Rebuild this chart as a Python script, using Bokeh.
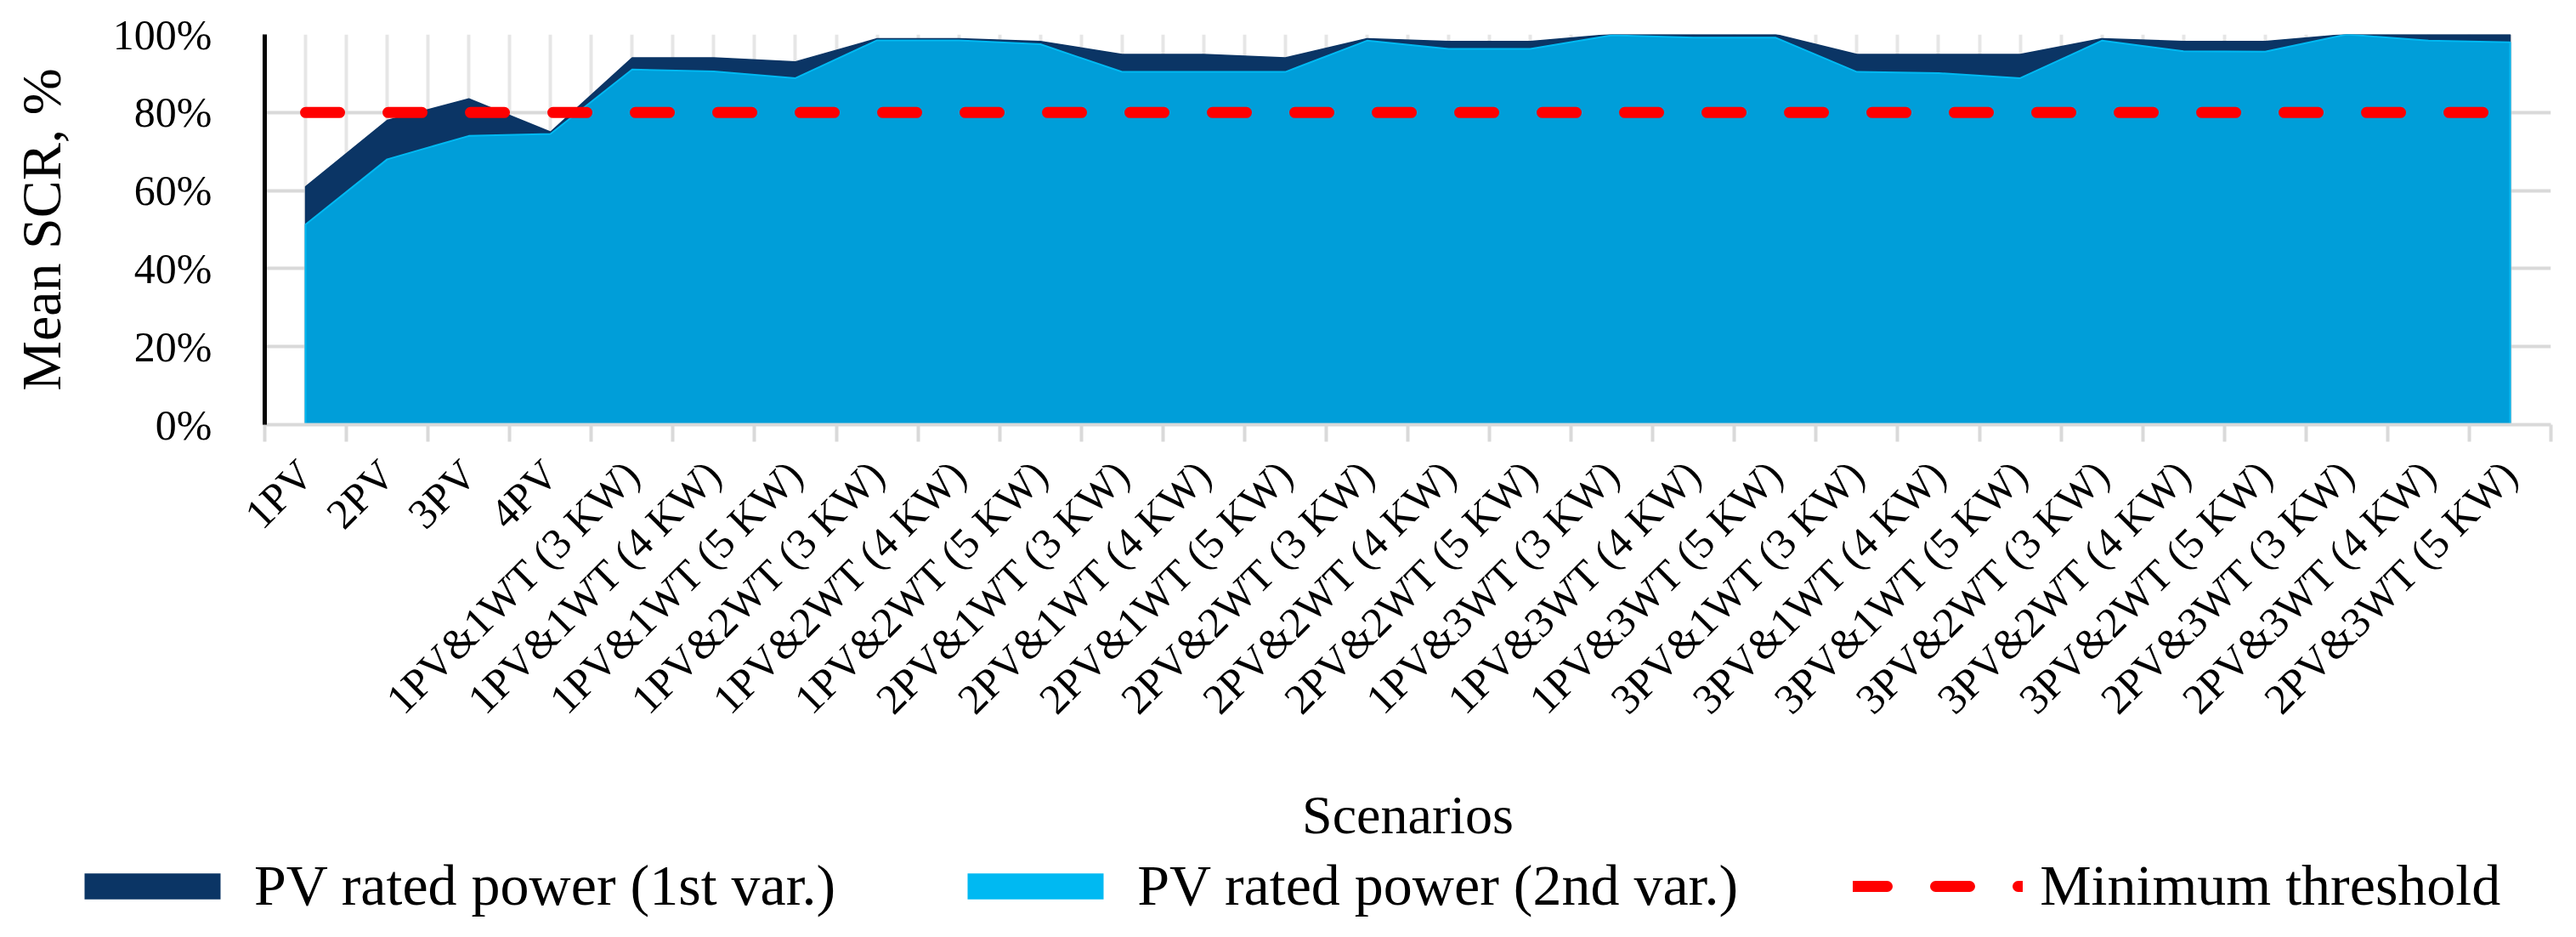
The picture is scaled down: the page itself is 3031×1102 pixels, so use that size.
from bokeh.plotting import figure
from bokeh.layouts import column
from bokeh.models import (Range1d, FixedTicker, NumeralTickFormatter, CustomJSTickFormatter,
                          Legend, LegendItem)
from bokeh.embed import file_html
from bokeh.resources import INLINE

# scenario names on the x axis
scenarios = ["1PV", "2PV", "3PV", "4PV",
             "1PV&1WT (3 KW)", "1PV&1WT (4 KW)", "1PV&1WT (5 KW)",
             "1PV&2WT (3 KW)", "1PV&2WT (4 KW)", "1PV&2WT (5 KW)",
             "2PV&1WT (3 KW)", "2PV&1WT (4 KW)", "2PV&1WT (5 KW)",
             "2PV&2WT (3 KW)", "2PV&2WT (4 KW)", "2PV&2WT (5 KW)",
             "1PV&3WT (3 KW)", "1PV&3WT (4 KW)", "1PV&3WT (5 KW)",
             "3PV&1WT (3 KW)", "3PV&1WT (4 KW)", "3PV&1WT (5 KW)",
             "3PV&2WT (3 KW)", "3PV&2WT (4 KW)", "3PV&2WT (5 KW)",
             "2PV&3WT (3 KW)", "2PV&3WT (4 KW)", "2PV&3WT (5 KW)"]

# mean SCR, 1st and 2nd variant of PV rated power
scr_var1 = [0.61, 0.78, 0.835, 0.75, 0.94, 0.94, 0.93, 0.989, 0.989, 0.982,
            0.949, 0.949, 0.94, 0.989, 0.982, 0.982, 1.0, 1.0, 1.0,
            0.949, 0.949, 0.949, 0.989, 0.982, 0.982, 1.0, 1.0, 1.0]
scr_var2 = [0.513, 0.68, 0.74, 0.745, 0.91, 0.905, 0.888, 0.985, 0.985, 0.975,
            0.904, 0.904, 0.904, 0.984, 0.963, 0.963, 0.998, 0.992, 0.992,
            0.904, 0.901, 0.888, 0.984, 0.957, 0.956, 1.0, 0.984, 0.98]
threshold = 0.8

y_ticks = [0, 0.2, 0.4, 0.6, 0.8, 1.0]

NAVY = "#0B3565"
BLUE = "#009ED9"
CYAN = "#00B9F2"
GRID = "#D9D9D9"
FONT = "Liberation Serif"

n = len(scenarios)
xc = [i + 0.5 for i in range(n)]
edges = [i for i in range(n + 1)]

p = figure(frame_width=2690, frame_height=459,
           x_range=Range1d(0, n), y_range=Range1d(0, 1),
           min_border_left=311, min_border_right=14, min_border_top=40, min_border_bottom=501,
           output_backend="svg", toolbar_location=None)
p.outline_line_color = None

# areas (as closed patches so the outline shows like the original)
px = [xc[0]] + xc + [xc[-1]]
p.patch(x=px, y=[0] + scr_var1 + [0], fill_color=NAVY, line_color=NAVY, line_width=1.5)
p.patch(x=px, y=[0] + scr_var2 + [0], fill_color=BLUE, line_color=CYAN, line_width=2)

# threshold line
p.line(x=[xc[0], xc[-1]], y=[threshold, threshold], line_color="red", line_width=13,
       line_dash="40 57", line_cap="round")

# axes
xt = FixedTicker(ticks=xc, minor_ticks=edges)
p.xaxis.ticker = xt
p.xaxis.formatter = CustomJSTickFormatter(args=dict(labels=scenarios),
                                          code="return labels[Math.floor(tick)]")
p.xaxis.major_label_orientation = 0.785398
p.xaxis.major_tick_out = 0
p.xaxis.major_tick_in = 0
p.xaxis.minor_tick_out = 20
p.xaxis.minor_tick_in = 0
p.xaxis.minor_tick_line_color = GRID
p.xaxis.minor_tick_line_width = 4
p.xaxis.axis_line_color = GRID
p.xaxis.axis_line_width = 4
p.xaxis.major_label_standoff = 30
p.xaxis.major_label_text_font = FONT
p.xaxis.major_label_text_font_size = "50px"
p.xaxis.major_label_text_color = "black"
p.xaxis.axis_label = "Scenarios"
p.xaxis.axis_label_text_font = FONT
p.xaxis.axis_label_text_font_size = "64px"
p.xaxis.axis_label_text_font_style = "normal"
p.xaxis.axis_label_text_color = "black"
p.xaxis.axis_label_standoff = 50

p.yaxis.ticker = FixedTicker(ticks=y_ticks)
p.yaxis.formatter = NumeralTickFormatter(format="0%")
p.yaxis.major_tick_out = 0
p.yaxis.major_tick_in = 0
p.yaxis.minor_tick_out = 0
p.yaxis.minor_tick_in = 0
p.yaxis.axis_line_color = "black"
p.yaxis.axis_line_width = 5
p.yaxis.major_label_standoff = 62
p.yaxis.major_label_text_font = FONT
p.yaxis.major_label_text_font_size = "50px"
p.yaxis.major_label_text_color = "black"
p.yaxis.axis_label = "Mean SCR, %"
p.yaxis.axis_label_text_font = FONT
p.yaxis.axis_label_text_font_size = "66px"
p.yaxis.axis_label_text_font_style = "normal"
p.yaxis.axis_label_text_color = "black"
p.yaxis.axis_label_standoff = 45

# grids
p.xgrid.ticker = xt
p.xgrid.grid_line_color = "#E6E6E6"
p.xgrid.grid_line_width = 4
p.xgrid.minor_grid_line_color = "#E6E6E6"
p.xgrid.minor_grid_line_width = 4
p.ygrid.ticker = FixedTicker(ticks=y_ticks)
p.ygrid.grid_line_color = GRID
p.ygrid.grid_line_width = 4

# legend strip below the chart, its own small figure; the proxy glyphs lie
# outside its x range so only their legend swatches show
leg = figure(width=3015, height=86, x_range=Range1d(-2, -1), y_range=Range1d(0, 1),
             min_border=0, x_axis_location=None, y_axis_location=None,
             output_backend="svg", toolbar_location=None)
leg.outline_line_color = None
leg.grid.visible = False
if "frame_align" in leg.properties():
    leg.frame_align = False

r1 = leg.varea(x=xc, y1=0, y2=scr_var1, fill_color=NAVY)
r2 = leg.varea(x=xc, y1=0, y2=scr_var2, fill_color=CYAN)
r3 = leg.line(x=xc, y=[threshold] * n, line_color="red", line_width=13,
              line_dash="40 57", line_cap="round")
legend = Legend(items=[LegendItem(label="PV rated power (1st var.)", renderers=[r1]),
                       LegendItem(label="PV rated power (2nd var.)", renderers=[r2]),
                       LegendItem(label="Minimum threshold", renderers=[r3])],
                orientation="horizontal", location=(79, 5),
                glyph_width=200, glyph_height=38, label_standoff=20, spacing=135,
                padding=0, margin=0, border_line_color=None, background_fill_alpha=0,
                label_text_font=FONT, label_text_font_size="68px",
                label_text_color="black")
leg.add_layout(legend, "center")

open("out.html", "w").write(file_html(column(p, leg), INLINE))
